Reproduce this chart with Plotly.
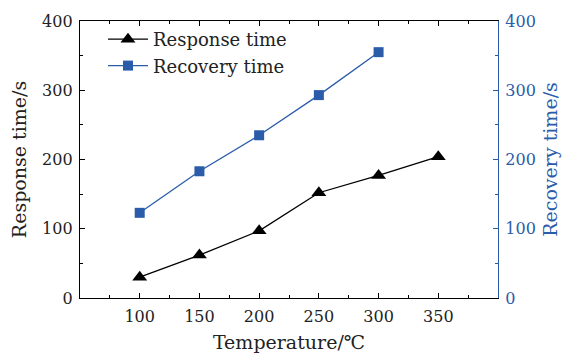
import plotly.graph_objects as go

temperature = [100, 150, 200, 250, 300, 350]
response_time = [30, 62, 97, 152, 177, 204]
recovery_temp = [100, 150, 200, 250, 300]
recovery_time = [123, 183, 235, 293, 355]

BLUE = "#2a5caa"
FONT = "DejaVu Serif"

fig = go.Figure()
fig.add_trace(go.Scatter(
    x=temperature, y=response_time, name="Response time",
    mode="lines+markers",
    line=dict(color="black", width=1.3),
    marker=dict(symbol="triangle-up", size=13, color="black"),
))
fig.add_trace(go.Scatter(
    x=recovery_temp, y=recovery_time, name="Recovery time",
    mode="lines+markers", yaxis="y2",
    line=dict(color=BLUE, width=1.3),
    marker=dict(symbol="square", size=10, color=BLUE),
))

fig.update_layout(
    width=563, height=354,
    margin=dict(l=80, r=65, t=21, b=56),
    paper_bgcolor="white", plot_bgcolor="white",
    font=dict(family=FONT, size=16, color="#222"),
    showlegend=True,
    legend=dict(x=0.055, y=1.0, xanchor="left", yanchor="top",
                bgcolor="rgba(0,0,0,0)", font=dict(size=18, family=FONT),
                itemwidth=40, tracegroupgap=0),
    xaxis=dict(
        range=[50, 400], tickvals=[100, 150, 200, 250, 300, 350],
        ticks="inside", ticklen=5, tickcolor="black",
        minor=dict(tickvals=[75, 125, 175, 225, 275, 325, 375],
                   ticks="inside", ticklen=3, tickcolor="black"),
        showline=True, linecolor="black", linewidth=1.3, mirror="ticks",
        showgrid=False, zeroline=False, ticklabelstandoff=4, automargin=False,
        title=dict(text="Temperature/℃", standoff=10),
        tickfont=dict(size=16),
    ),
    yaxis=dict(
        range=[0, 400], tickvals=[0, 100, 200, 300, 400],
        ticks="inside", ticklen=5, tickcolor="black",
        minor=dict(tickvals=[50, 150, 250, 350], ticks="inside",
                   ticklen=3, tickcolor="black"),
        showline=True, linecolor="black", linewidth=1.3,
        showgrid=False, zeroline=False, ticklabelstandoff=3, automargin=False,
        title=dict(text="Response time/s", standoff=10),
        tickfont=dict(size=16),
    ),
    yaxis2=dict(
        range=[0, 400], tickvals=[0, 100, 200, 300, 400],
        overlaying="y", side="right", anchor="x",
        ticks="inside", ticklen=5, tickcolor=BLUE,
        minor=dict(tickvals=[50, 150, 250, 350], ticks="inside",
                   ticklen=3, tickcolor=BLUE),
        showline=True, linecolor=BLUE, linewidth=1.3,
        showgrid=False, zeroline=False, ticklabelstandoff=3, automargin=False,
        title=dict(text="Recovery time/s", standoff=8, font=dict(color=BLUE)),
        tickfont=dict(size=16, color=BLUE),
    ),
)

fig.write_html("out.html")
